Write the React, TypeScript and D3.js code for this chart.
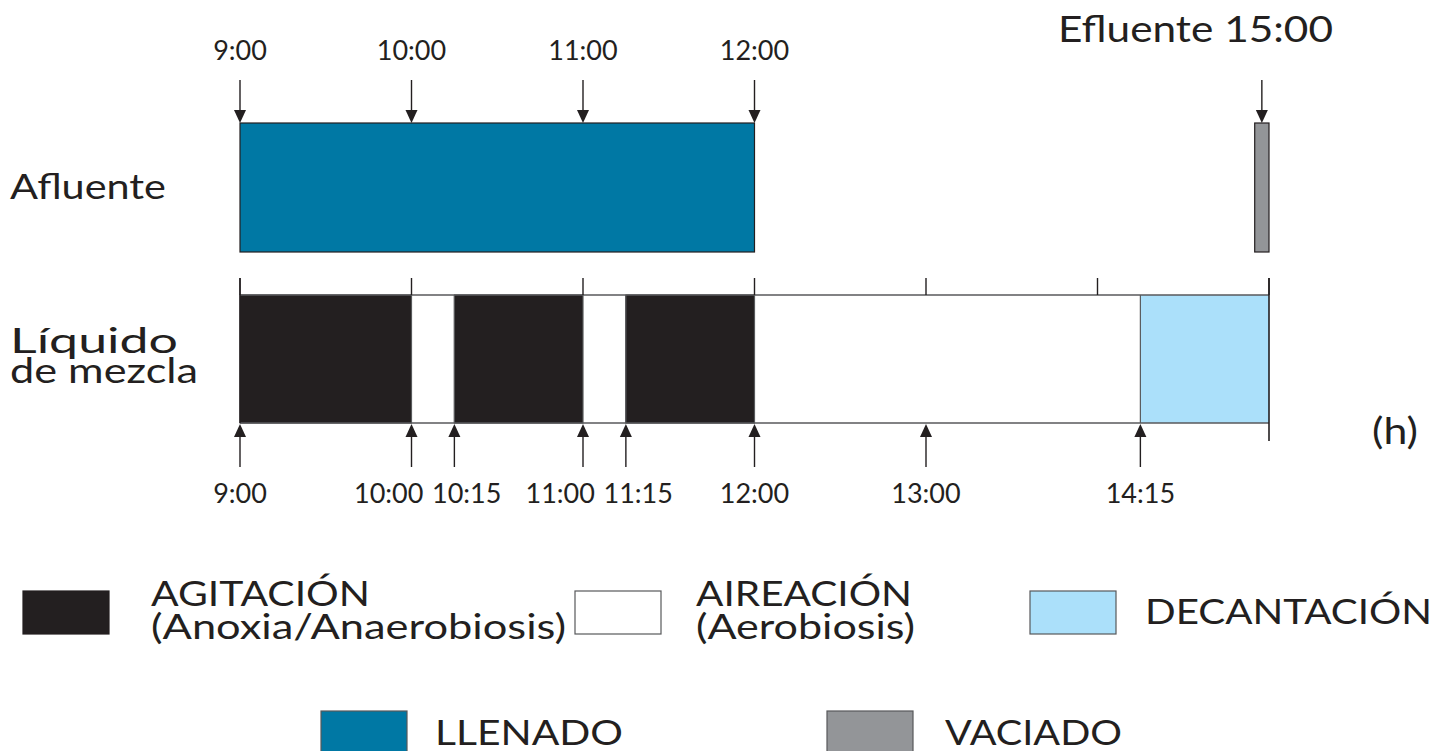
import React from "react";
import * as d3 from "d3";

// ---------- DATA ----------
const mixPhases = [
  { start: 9, end: 10, kind: "agitacion" },
  { start: 10, end: 10.25, kind: "aireacion" },
  { start: 10.25, end: 11, kind: "agitacion" },
  { start: 11, end: 11.25, kind: "aireacion" },
  { start: 11.25, end: 12, kind: "agitacion" },
  { start: 12, end: 14.25, kind: "aireacion" },
  { start: 14.25, end: 15, kind: "decantacion" },
];
const inflowPhases = [
  { start: 9, end: 12, kind: "llenado" },
  { start: 14 + 55 / 60, end: 15, kind: "vaciado" },
];
const topArrowTimes = [9, 10, 11, 12];
const topArrowLabels = ["9:00", "10:00", "11:00", "12:00"];
const bottomArrowTimes = [9, 10, 10.25, 11, 11.25, 12, 13, 14.25];
const bottomArrowLabels = ["9:00", "10:00", "10:15", "11:00", "11:15", "12:00", "13:00", "14:15"];
const hourTicks = [9, 10, 11, 12, 13, 14, 15];
const rowLabels = ["Afluente", "Líquido", "de mezcla"];
const effluentLabel = "Efluente 15:00";
const unitLabel = "(h)";
const legendKinds = ["agitacion", "aireacion", "decantacion", "llenado", "vaciado"];
const legendLine1 = ["AGITACIÓN", "AIREACIÓN", "DECANTACIÓN", "LLENADO", "VACIADO"];
const legendLine2 = ["(Anoxia/Anaerobiosis)", "(Aerobiosis)", "", "", ""];

// ---------- STYLE / LAYOUT ----------
const colors: Record<string, string> = {
  agitacion: "#231f20",
  aireacion: "#ffffff",
  decantacion: "#abe0fa",
  llenado: "#0078a4",
  vaciado: "#939598",
};
const INK = "#231f20";
const FONT = "Lato, 'Open Sans', sans-serif";
const W = 1448;
const H = 751;

const UP_TOP = 123, UP_BOT = 252;
const LO_TOP = 295, LO_BOT = 423;

// legend layout: box x, box y, text x, line1 baseline, line2 baseline, text widths
const legendLayout = [
  { bx: 23, by: 591, tx: 151, b1: 606, b2: 639, w1: 219, w2: 415 },
  { bx: 575, by: 591, tx: 696, b1: 606, b2: 639, w1: 216, w2: 219 },
  { bx: 1030, by: 591, tx: 1145, b1: 624, b2: 0, w1: 287, w2: 0 },
  { bx: 321, by: 711, tx: 435, b1: 745, b2: 0, w1: 188, w2: 0 },
  { bx: 827, by: 711, tx: 945, b1: 745, b2: 0, w1: 177, w2: 0 },
];

function ArrowDown({ x, y1, y2 }: { x: number; y1: number; y2: number }) {
  const ah = 13, aw = 6;
  return (
    <g>
      <line x1={x} x2={x} y1={y1} y2={y2 - ah + 1} stroke={INK} strokeWidth={1.4} />
      <path d={`M${x - aw},${y2 - ah} L${x + aw},${y2 - ah} L${x},${y2} Z`} fill={INK} />
    </g>
  );
}
function ArrowUp({ x, y1, y2 }: { x: number; y1: number; y2: number }) {
  const ah = 13, aw = 6;
  return (
    <g>
      <line x1={x} x2={x} y1={y1 + ah - 1} y2={y2} stroke={INK} strokeWidth={1.4} />
      <path d={`M${x - aw},${y1 + ah} L${x + aw},${y1 + ah} L${x},${y1} Z`} fill={INK} />
    </g>
  );
}

export default function App() {
  const x = d3.scaleLinear().domain([9, 15]).range([240, 1269]);

  // bottom labels: centre on arrows, then push apart overlapping neighbours
  const labelW = (s: string) => s.length * 13.8;
  const gap = 9;
  const centres = bottomArrowTimes.map((t) => x(t));
  for (let iter = 0; iter < 20; iter++) {
    for (let i = 0; i < centres.length - 1; i++) {
      const need = (labelW(bottomArrowLabels[i]) + labelW(bottomArrowLabels[i + 1])) / 2 + gap;
      const d = centres[i + 1] - centres[i];
      if (d < need) {
        const s = (need - d) / 2;
        centres[i] -= s * 1.3;
        centres[i + 1] += s * 0.7;
      }
    }
  }

  const vac = inflowPhases[1];
  const effX = (x(vac.start) + x(vac.end)) / 2;
  const BIG = 35;

  return (
    <svg
      width={W}
      height={H}
      style={{ position: "absolute", left: 0, top: 0, background: "#fff" }}
      fontFamily={FONT}
    >
      <text x={1058} y={42} fontSize={37} fill={INK} textLength={275} lengthAdjust="spacingAndGlyphs">
        {effluentLabel}
      </text>

      <text x={10} y={199} fontSize={BIG} fill={INK} textLength={156} lengthAdjust="spacingAndGlyphs">
        {rowLabels[0]}
      </text>
      <text x={10} y={353} fontSize={BIG} fill={INK} textLength={168} lengthAdjust="spacingAndGlyphs">
        {rowLabels[1]}
      </text>
      <text x={10} y={383} fontSize={BIG} fill={INK} textLength={188} lengthAdjust="spacingAndGlyphs">
        {rowLabels[2]}
      </text>

      {topArrowTimes.map((t, i) => (
        <g key={"ta" + i}>
          <text x={x(t)} y={60} fontSize={27} textAnchor="middle" fill={INK}>
            {topArrowLabels[i]}
          </text>
          <ArrowDown x={x(t)} y1={80} y2={UP_TOP} />
        </g>
      ))}
      <ArrowDown x={effX} y1={80} y2={UP_TOP} />

      {inflowPhases.map((p, i) => (
        <rect
          key={"ip" + i}
          x={x(p.start)}
          y={UP_TOP}
          width={x(p.end) - x(p.start)}
          height={UP_BOT - UP_TOP}
          fill={colors[p.kind]}
          stroke={INK}
          strokeWidth={1.2}
        />
      ))}

      {mixPhases.map((p, i) => (
        <rect
          key={"mp" + i}
          x={x(p.start)}
          y={LO_TOP}
          width={x(p.end) - x(p.start)}
          height={LO_BOT - LO_TOP}
          fill={colors[p.kind]}
          stroke={p.kind === "agitacion" ? colors[p.kind] : "none"}
          strokeWidth={1}
        />
      ))}
      <line x1={x(9)} x2={x(15)} y1={LO_TOP} y2={LO_TOP} stroke="#58595b" strokeWidth={1.5} />
      <line x1={x(9)} x2={x(15)} y1={LO_BOT} y2={LO_BOT} stroke="#58595b" strokeWidth={1.5} />
      {mixPhases.slice(1).map((p, i) => (
        <line key={"sep" + i} x1={x(p.start)} x2={x(p.start)} y1={LO_TOP} y2={LO_BOT} stroke="#58595b" strokeWidth={1.2} />
      ))}
      {hourTicks.map((t, i) => (
        <line key={"ht" + i} x1={x(t)} x2={x(t)} y1={278} y2={LO_TOP} stroke={INK} strokeWidth={1.4} />
      ))}
      <line x1={x(9)} x2={x(9)} y1={278} y2={LO_BOT} stroke={INK} strokeWidth={1.4} />
      <line x1={x(15)} x2={x(15)} y1={278} y2={441} stroke={INK} strokeWidth={1.6} />

      {bottomArrowTimes.map((t, i) => (
        <g key={"ba" + i}>
          <ArrowUp x={x(t)} y1={LO_BOT + 1} y2={467} />
          <text x={centres[i]} y={503} fontSize={27} textAnchor="middle" fill={INK}>
            {bottomArrowLabels[i]}
          </text>
        </g>
      ))}

      <text x={1372} y={444} fontSize={37} fill={INK} textLength={46} lengthAdjust="spacingAndGlyphs">
        {unitLabel}
      </text>

      {legendKinds.map((k, i) => {
        const L = legendLayout[i];
        return (
          <g key={"lg" + i}>
            <rect
              x={L.bx}
              y={L.by}
              width={86}
              height={k === "llenado" || k === "vaciado" ? 50 : 43}
              fill={colors[k]}
              stroke={k === "agitacion" ? colors[k] : "#58595b"}
              strokeWidth={1.2}
            />
            <text x={L.tx} y={L.b1} fontSize={BIG} fill={INK} textLength={L.w1} lengthAdjust="spacingAndGlyphs">
              {legendLine1[i]}
            </text>
            {legendLine2[i] && (
              <text x={L.tx} y={L.b2} fontSize={BIG} fill={INK} textLength={L.w2} lengthAdjust="spacingAndGlyphs">
                {legendLine2[i]}
              </text>
            )}
          </g>
        );
      })}
    </svg>
  );
}
